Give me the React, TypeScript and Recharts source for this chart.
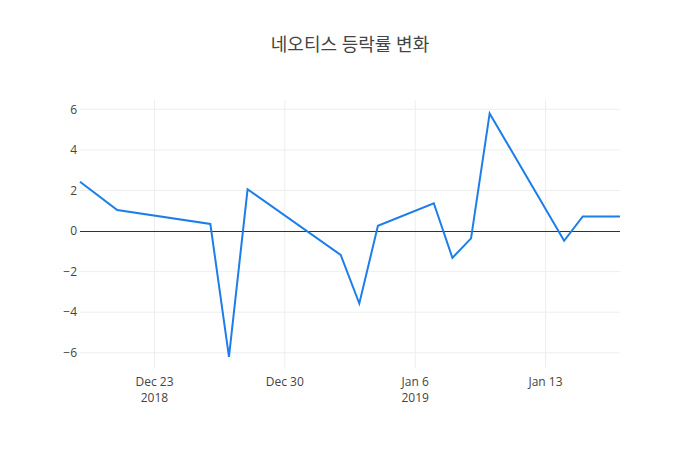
import { LineChart, Line, XAxis, YAxis, CartesianGrid, ReferenceLine } from 'recharts';

const dates = [
  '2018-12-19', '2018-12-21', '2018-12-26', '2018-12-27', '2018-12-28',
  '2019-01-02', '2019-01-03', '2019-01-04', '2019-01-07', '2019-01-08',
  '2019-01-09', '2019-01-10', '2019-01-14', '2019-01-15', '2019-01-17',
];
const changes = [2.43, 1.04, 0.35, -6.2, 2.06, -1.18, -3.57, 0.26, 1.37, -1.32, -0.36, 5.8, -0.48, 0.72, 0.72];

const xTicks = ['2018-12-23', '2018-12-30', '2019-01-06', '2019-01-13'];
const tickTop = ['Dec 23', 'Dec 30', 'Jan 6', 'Jan 13'];
const tickBottom = ['2018', '', '2019', ''];
const yTicks = [-6, -4, -2, 0, 2, 4, 6];

const toTime = (s: string) => new Date(s + 'T00:00:00Z').getTime();

const data = dates.map((d, i) => ({ t: toTime(d), v: changes[i] }));
const tickTimes = xTicks.map(toTime);

const FONT = '"Open Sans", "Noto Sans CJK KR", sans-serif';

const DateTick = (props: any) => {
  const { x, y, payload } = props;
  const i = tickTimes.indexOf(payload.value);
  return (
    <g>
      <text x={x} y={y + 10} textAnchor="middle" fill="#444" fontSize={12} fontFamily={FONT}>
        {tickTop[i]}
      </text>
      {tickBottom[i] && (
        <text x={x} y={y + 26} textAnchor="middle" fill="#444" fontSize={12} fontFamily={FONT}>
          {tickBottom[i]}
        </text>
      )}
    </g>
  );
};

const App = () => {
  return (
    <div style={{ position: 'absolute', left: 0, top: 0, width: 700, height: 450, background: '#fff' }}>
      <div
        style={{
          position: 'absolute',
          top: 30,
          left: 0,
          width: 700,
          textAlign: 'center',
          fontSize: 18,
          color: '#444',
          fontFamily: FONT,
        }}
      >
        네오티스 등락률 변화
      </div>
      <LineChart
        width={700}
        height={450}
        data={data}
        margin={{ top: 100, right: 80, left: 40, bottom: 0 }}
      >
        <CartesianGrid
          stroke="#eee"
          strokeWidth={1}
          horizontalValues={yTicks.filter((v) => v !== 0)}
          verticalValues={tickTimes}
        />
        <XAxis
          dataKey="t"
          type="number"
          scale="time"
          domain={[toTime('2018-12-19'), toTime('2019-01-17')]}
          ticks={tickTimes}
          tick={<DateTick />}
          axisLine={false}
          tickLine={false}
          height={82}
          interval={0}
        />
        <YAxis
          type="number"
          domain={[-6.75, 6.46]}
          ticks={yTicks}
          width={40}
          axisLine={false}
          tickLine={false}
          tickSize={0}
          tickMargin={3}
          tick={{ fill: '#444', fontSize: 12, fontFamily: FONT }}
          tickFormatter={(v: number) => String(v).replace('-', '\u2212')}
          allowDataOverflow
        />
        <ReferenceLine y={0} stroke="#333" strokeWidth={1} shapeRendering="crispEdges" />
        <Line
          type="linear"
          dataKey="v"
          stroke="#1c7ee8"
          strokeWidth={2}
          dot={false}
          isAnimationActive={false}
        />
      </LineChart>
    </div>
  );
};

export default App;
